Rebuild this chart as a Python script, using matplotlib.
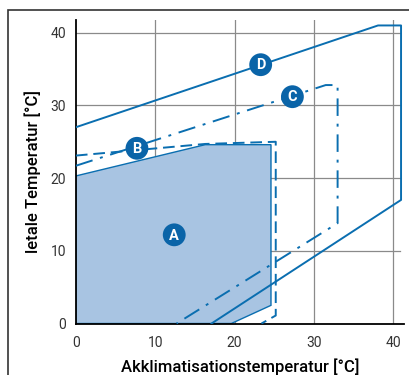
import matplotlib.pyplot as plt
from matplotlib.patches import Polygon, Rectangle

plt.rcParams['font.family'] = ['Roboto', 'DejaVu Sans']

# boundary polygons (Akklimatisation, letal)
a_x = [0, 0, 16.3, 24.6, 24.6, 19.6, 0]
a_y = [0, 20.3, 24.6, 24.6, 2.5, 0, 0]
b_x = [0, 16.3, 25.2, 25.2, 23.4]
b_y = [23.1, 24.7, 25.0, 1.1, 0]
c_x = [0, 31.5, 33.0, 33.0, 12.7]
c_y = [21.7, 32.8, 32.8, 13.8, 0]
d_x = [0, 38.1, 41.0, 41.0, 17.1]
d_y = [27.0, 41.0, 41.0, 17.0, 0]

labels = ['A', 'B', 'C', 'D']
label_x = [12.4, 7.7, 27.3, 23.3]
label_y = [12.2, 24.1, 31.2, 35.6]

ticks = [0, 10, 20, 30, 40]

blue = '#0a6eb0'
fill = '#a8c4e2'

fig = plt.figure(figsize=(4.1, 3.75), dpi=100)
ax = fig.add_axes([0.1851, 0.1373, 0.8008, 0.8084])
ax.set_xlim(0, 41.4)
ax.set_ylim(0, 41.7)

# grid
for t in ticks[1:]:
    ax.axvline(t, color='#8a8a8a', lw=0.9, zorder=0)
    ax.axhline(t, color='#8a8a8a', lw=0.9, zorder=0, xmax=40.9 / 41.4)

ax.add_patch(Polygon(list(zip(a_x, a_y)), closed=True, facecolor=fill,
                     edgecolor=blue, lw=1.0, zorder=2))
ax.plot(b_x, b_y, color=blue, lw=1.4, dashes=(6, 3), zorder=3)
ax.plot(c_x, c_y, color=blue, lw=1.4, dashes=(9, 4, 1.5, 4), zorder=3)
ax.plot(d_x, d_y, color=blue, lw=1.4, zorder=3)

ax.scatter(label_x, label_y, s=270, color='#0a64a8', edgecolors='none', zorder=5)
for lab, x, y in zip(labels, label_x, label_y):
    ax.text(x, y - 0.1, lab, color='white', fontsize=10.5, fontweight='bold',
            ha='center', va='center', zorder=6)

for s in ['top', 'right']:
    ax.spines[s].set_visible(False)
ax.spines['left'].set_linewidth(1.3)
ax.spines['bottom'].set_linewidth(1.3)
ax.set_xticks(ticks)
ax.set_yticks(ticks)
ax.tick_params(length=0, labelsize=10, colors='#333333', pad=7)
ax.tick_params(axis='x', pad=9)

ax.set_xlabel('Akklimatisationstemperatur [°C]', fontsize=12, labelpad=6,
              fontweight='medium')
ax.set_ylabel('letale Temperatur [°C]', fontsize=12, labelpad=7,
              fontweight='medium')

# outer frame
fig.patches.append(Rectangle((8 / 410, -0.1), 1.2, 1.1 - 10 / 375,
                             transform=fig.transFigure, fill=False,
                             edgecolor='#333333', lw=1.2))

fig.savefig('out.png', dpi=100)
